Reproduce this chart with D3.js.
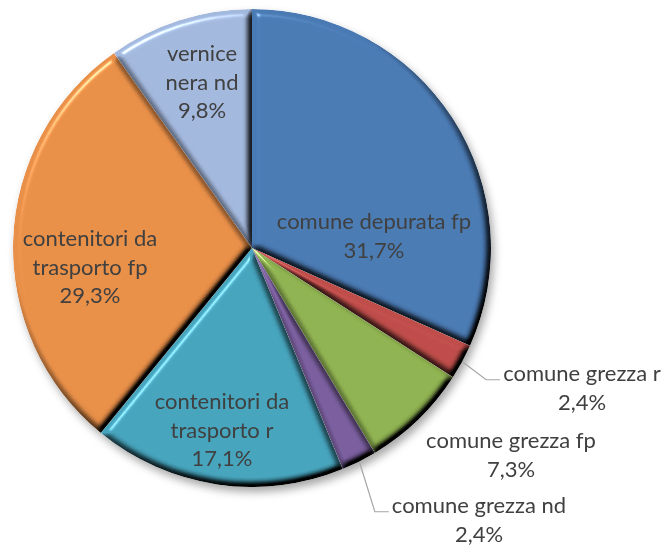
<!DOCTYPE html>
<html>
<head>
<meta charset="utf-8">
<script src="https://cdn.jsdelivr.net/npm/d3@7/dist/d3.min.js"></script>
<style>
  html, body { margin: 0; padding: 0; background: #ffffff; }
  svg { display: block; }
</style>
</head>
<body>
<svg id="chart" width="668" height="554"></svg>
<script>
// ---- data ----
const categories = [
  "comune depurata fp",
  "comune grezza r",
  "comune grezza fp",
  "comune grezza nd",
  "contenitori da trasporto r",
  "contenitori da trasporto fp",
  "vernice nera nd"
];
const values = [31.7, 2.4, 7.3, 2.4, 17.1, 29.3, 9.8];
const labelLines = [
  ["comune depurata fp"],
  ["comune grezza r"],
  ["comune grezza fp"],
  ["comune grezza nd"],
  ["contenitori da", "trasporto r"],
  ["contenitori da", "trasporto fp"],
  ["vernice", "nera nd"]
];
const colors = ["#4a7ab3", "#bf4d4a", "#8fb251", "#7a5e9e", "#46a4bd", "#e88f48", "#a3b8dd"];

// ---- layout (not data) ----
const cx = 252, cy = 248, R = 239;
const fontSize = 22;
const fontFamily = "Lato, 'Open Sans', sans-serif";
// label block centre offsets from pie centre
const labelOffsets = [
  [122, -12], [330, 140], [259, 207], [227, 272], [-30, 182], [-162, 19], [-50, -166]
];
const leader = [false, true, false, true, false, false, false];
const lineH = 28.5;

const svg = d3.select("#chart");
const defs = svg.append("defs");

// drop shadow for the whole pie
const sh = defs.append("filter").attr("id", "shadow")
  .attr("x", "-10%").attr("y", "-10%").attr("width", "125%").attr("height", "125%");
sh.append("feDropShadow").attr("dx", 3).attr("dy", 5).attr("stdDeviation", 4)
  .attr("flood-color", "#000").attr("flood-opacity", 0.35);

// bevel filter
const bv = defs.append("filter").attr("id", "bevel")
  .attr("x", "-5%").attr("y", "-5%").attr("width", "110%").attr("height", "110%")
  .attr("color-interpolation-filters", "sRGB");
bv.append("feGaussianBlur").attr("in", "SourceAlpha").attr("stdDeviation", 3.5).attr("result", "blur");
const dl = bv.append("feDiffuseLighting").attr("in", "blur").attr("surfaceScale", 6)
  .attr("diffuseConstant", 1.414).attr("lighting-color", "#ffffff").attr("result", "diff");
dl.append("feDistantLight").attr("azimuth", 235).attr("elevation", 45);
const sl = bv.append("feSpecularLighting").attr("in", "blur").attr("surfaceScale", 6)
  .attr("specularConstant", 0.6).attr("specularExponent", 45).attr("lighting-color", "#ffffff").attr("result", "spec");
sl.append("feDistantLight").attr("azimuth", 235).attr("elevation", 40);
bv.append("feComposite").attr("in", "SourceGraphic").attr("in2", "diff")
  .attr("operator", "arithmetic").attr("k1", 1).attr("k2", 0).attr("k3", 0).attr("k4", 0).attr("result", "shaded");
bv.append("feComposite").attr("in", "spec").attr("in2", "SourceAlpha").attr("operator", "in").attr("result", "specIn");
bv.append("feComposite").attr("in", "shaded").attr("in2", "specIn")
  .attr("operator", "arithmetic").attr("k1", 0).attr("k2", 1).attr("k3", 0.7).attr("k4", 0).attr("result", "lit");
bv.append("feComposite").attr("in", "lit").attr("in2", "SourceAlpha").attr("operator", "in");

const data = categories.map((c, i) => ({ name: c, value: values[i], i }));
const pie = d3.pie().sort(null).value(d => d.value).startAngle(0).endAngle(2 * Math.PI);
const arcs = pie(data);
const arc = d3.arc().innerRadius(0).outerRadius(R);

const g = svg.append("g").attr("transform", `translate(${cx},${cy})`);
const slices = g.append("g").attr("filter", "url(#shadow)");
slices.selectAll("path").data(arcs).join("path")
  .attr("d", arc)
  .attr("fill", d => colors[d.data.i])
  .attr("filter", "url(#bevel)");

function textWidth(s) {
  const t = svg.append("text").attr("font-family", fontFamily)
    .attr("font-size", fontSize).text(s);
  const w = t.node().getComputedTextLength();
  t.remove();
  return w;
}

// leader lines
const fmt = v => d3.format(".1f")(v).replace(".", ",") + "%";
arcs.forEach(a => {
  const i = a.data.i;
  if (!leader[i]) return;
  const mid = (a.startAngle + a.endAngle) / 2;
  const r0 = R + 1;
  const x0 = r0 * Math.sin(mid), y0 = -r0 * Math.cos(mid);
  const [lx, ly] = labelOffsets[i];
  const n = labelLines[i].length + 1;
  const firstY = ly - (n - 1) * lineH / 2;
  const w = textWidth(labelLines[i][0]);
  const xe = lx - w / 2 - 3;
  const yl = firstY + 6;
  g.append("path")
    .attr("d", `M${x0},${y0}L${xe - 14},${yl}L${xe},${yl}`)
    .attr("fill", "none").attr("stroke", "#a6a6a6").attr("stroke-width", 1.2);
});

// labels
const labels = g.append("g")
  .attr("font-family", fontFamily)
  .attr("font-size", fontSize)
  .attr("fill", "#404040")
  .attr("text-anchor", "middle");
arcs.forEach(a => {
  const i = a.data.i;
  const lines = labelLines[i].concat([fmt(a.data.value)]);
  const [lx, ly] = labelOffsets[i];
  const n = lines.length;
  lines.forEach((s, k) => {
    labels.append("text")
      .attr("x", lx)
      .attr("y", ly + (k - (n - 1) / 2) * lineH)
      .attr("dy", "0.35em")
      .text(s);
  });
});
</script>
</body>
</html>
